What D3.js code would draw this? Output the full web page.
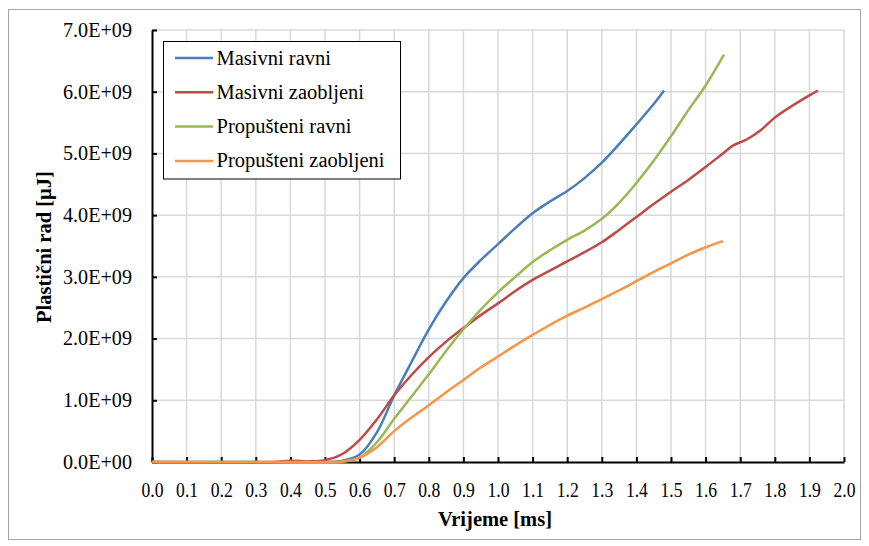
<!DOCTYPE html>
<html><head><meta charset="utf-8">
<script src="https://cdn.jsdelivr.net/npm/d3@7"></script>
<style>body{margin:0;background:#fff} svg text{font-family:"Liberation Serif","DejaVu Serif","Times New Roman",serif !important;}</style>
</head><body>
<svg id="c" width="869" height="546"></svg>
<script>
const xTicks = d3.range(0, 21).map(i => i / 10);
const yTicks = [0, 1e9, 2e9, 3e9, 4e9, 5e9, 6e9, 7e9];
const seriesNames = ["Masivni ravni", "Masivni zaobljeni", "Propušteni ravni", "Propušteni zaobljeni"];
const colors = ["#4A7EBB", "#BE4B48", "#98B954", "#F79646"];

const masivniRavni = [[0,0],[0.3,0],[0.5,0],[0.55,0.02],[0.6,0.12],[0.65,0.48],[0.7,1.08],[0.75,1.62],[0.8,2.15],[0.85,2.6],[0.9,2.98],[0.95,3.27],[1.0,3.53],[1.05,3.79],[1.1,4.03],[1.15,4.22],[1.2,4.39],[1.25,4.6],[1.3,4.85],[1.35,5.15],[1.4,5.47],[1.45,5.8],[1.48,6.02]];
const masivniZaobljeni = [[0,0],[0.35,0],[0.4,0.02],[0.45,0.01],[0.5,0.03],[0.55,0.13],[0.6,0.36],[0.65,0.69],[0.7,1.08],[0.75,1.41],[0.8,1.7],[0.85,1.95],[0.9,2.17],[0.95,2.38],[1.0,2.57],[1.05,2.77],[1.1,2.95],[1.15,3.1],[1.2,3.25],[1.25,3.4],[1.3,3.56],[1.35,3.76],[1.4,3.97],[1.45,4.18],[1.5,4.38],[1.55,4.57],[1.6,4.78],[1.65,5.0],[1.68,5.13],[1.72,5.23],[1.76,5.38],[1.8,5.58],[1.85,5.77],[1.9,5.94],[1.925,6.02]];
const propusteniRavni = [[0,0],[0.3,0],[0.55,0],[0.6,0.07],[0.65,0.32],[0.7,0.7],[0.75,1.06],[0.8,1.42],[0.85,1.8],[0.9,2.15],[0.95,2.47],[1.0,2.75],[1.05,3.0],[1.1,3.24],[1.15,3.43],[1.2,3.6],[1.25,3.75],[1.3,3.94],[1.35,4.2],[1.4,4.52],[1.45,4.88],[1.5,5.28],[1.55,5.7],[1.6,6.1],[1.653,6.6]];
const propusteniZaobljeni = [[0,0],[0.3,0],[0.5,0],[0.55,0.01],[0.6,0.07],[0.65,0.24],[0.7,0.5],[0.75,0.72],[0.8,0.92],[0.85,1.13],[0.9,1.33],[0.95,1.53],[1.0,1.71],[1.05,1.89],[1.1,2.06],[1.15,2.22],[1.2,2.37],[1.25,2.5],[1.3,2.64],[1.35,2.78],[1.4,2.93],[1.45,3.08],[1.5,3.22],[1.55,3.36],[1.6,3.48],[1.65,3.58]];
const allSeries = [masivniRavni, masivniZaobljeni, propusteniRavni, propusteniZaobljeni];

const svg = d3.select("#c");
const L = 152, R = 844, T = 30, B = 462;
const x = d3.scaleLinear().domain([0, 2]).range([L, R]);
const y = d3.scaleLinear().domain([0, 7e9]).range([B, T]);

svg.append("rect").attr("x", 8.5).attr("y", 9.5).attr("width", 852).attr("height", 530)
  .attr("fill", "#fff").attr("stroke", "#a6a6a6").attr("stroke-width", 1);

// gridlines
svg.append("g").selectAll("line").data(xTicks.slice(1)).join("line")
  .attr("x1", d => x(d)).attr("x2", d => x(d)).attr("y1", T).attr("y2", B)
  .attr("stroke", "#d9d9d9").attr("stroke-width", 1.5);
svg.append("g").selectAll("line").data(yTicks.slice(1)).join("line")
  .attr("x1", L).attr("x2", R).attr("y1", d => y(d)).attr("y2", d => y(d))
  .attr("stroke", "#d9d9d9").attr("stroke-width", 1.5);

// axes
const xAxis = svg.append("g").attr("transform", `translate(0,${B})`)
  .call(d3.axisBottom(x).tickValues(xTicks).tickFormat(d3.format(".1f")).tickSizeInner(-5).tickSizeOuter(0).tickPadding(21));
const yAxis = svg.append("g").attr("transform", `translate(${L},0)`)
  .call(d3.axisLeft(y).tickValues(yTicks).tickFormat(d => (d / 1e9).toFixed(1) + (d === 0 ? "E+00" : "E+09")).tickSizeInner(-5).tickSizeOuter(0).tickPadding(20));
[xAxis, yAxis].forEach(a => {
  a.attr("font-family", null).attr("font-size", 20);
  a.select(".domain").attr("stroke", "#000").attr("stroke-width", 2);
  a.selectAll(".tick line").attr("stroke", "#000").attr("stroke-width", 2);
  a.selectAll("text").attr("font-size", 20).attr("fill", "#000");
});
xAxis.selectAll(".tick text").attr("textLength", 22).attr("lengthAdjust", "spacingAndGlyphs");
yAxis.selectAll(".tick text").attr("textLength", 69).attr("lengthAdjust", "spacingAndGlyphs");

// lines
const line = d3.line().x(d => x(d[0])).y(d => y(d[1] * 1e9)).curve(d3.curveCatmullRom.alpha(0.5));
svg.append("g").selectAll("path").data(allSeries).join("path")
  .attr("d", line).attr("fill", "none")
  .attr("stroke", (d, i) => colors[i]).attr("stroke-width", 2.5).attr("stroke-linejoin", "round");

// axis titles
svg.append("text").attr("x", 495).attr("y", 526).attr("text-anchor", "middle")
  .attr("font-size", 20.5).attr("font-weight", "bold").text("Vrijeme [ms]");
svg.append("text").attr("transform", "translate(51,247) rotate(-90)").attr("text-anchor", "middle")
  .attr("font-size", 20.5).attr("font-weight", "bold").text("Plastični rad [µJ]");

// legend
const lg = svg.append("g");
lg.append("rect").attr("x", 163.5).attr("y", 41.5).attr("width", 237).attr("height", 137.5)
  .attr("fill", "#fff").attr("stroke", "#000").attr("stroke-width", 1);
seriesNames.forEach((n, i) => {
  const yy = 58 + i * 34.3;
  lg.append("line").attr("x1", 175).attr("x2", 213).attr("y1", yy).attr("y2", yy)
    .attr("stroke", colors[i]).attr("stroke-width", 2.5);
  lg.append("text").attr("x", 216.5).attr("y", yy + 6.5)
    .attr("font-size", 20.5).attr("fill", "#000").text(n);
});
</script>
</body></html>
